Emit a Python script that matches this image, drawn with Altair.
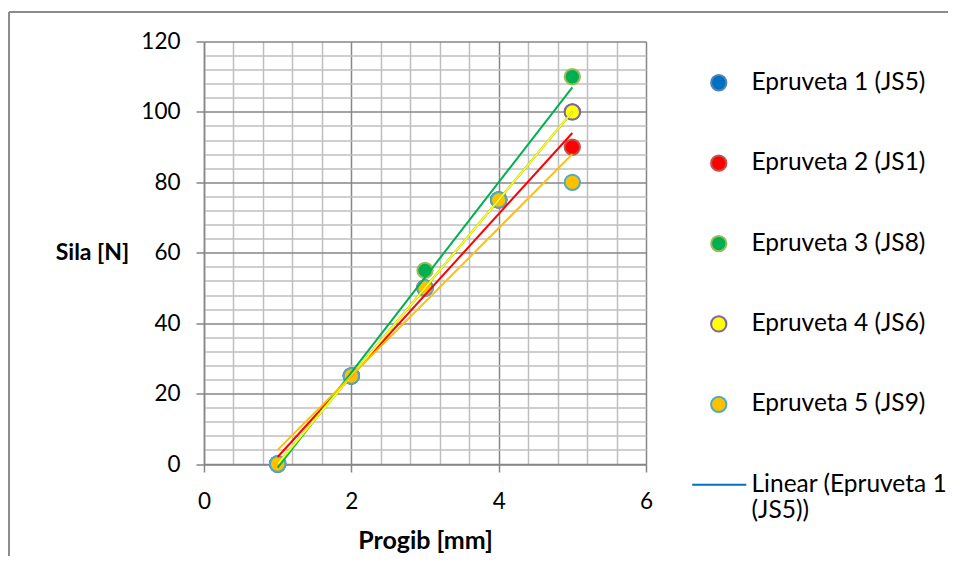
import altair as alt
import pandas as pd

# ---- data ----
x_vals = [1, 2, 3, 4, 5]
js5 = [0, 25, 50, 75, 100]
js1 = [0, 25, 50, 75, 90]
js8 = [0, 25, 55, 75, 110]
js6 = [0, 25, 50, 75, 100]
js9 = [0, 25, 50, 75, 80]
series_names = ["Epruveta 1 (JS5)", "Epruveta 2 (JS1)", "Epruveta 3 (JS8)",
                "Epruveta 4 (JS6)", "Epruveta 5 (JS9)"]
trend_label = "Linear (Epruveta 1 (JS5))"

fill_colors = ["#0070C0", "#FF0000", "#00B050", "#FFFF00", "#FFC000"]
edge_colors = ["#4F81BD", "#C0504D", "#9BBB59", "#8064A2", "#4BACC6"]
trend_colors = ["#0070C0", "#FF0000", "#00B050", "#FFFF00", "#FFC000"]

x_major = [0, 2, 4, 6]
x_minor = [0.4, 0.8, 1.2, 1.6, 2.4, 2.8, 3.2, 3.6, 4.4, 4.8, 5.2, 5.6]
y_major = [0, 20, 40, 60, 80, 100, 120]
y_minor = [4, 8, 12, 16, 24, 28, 32, 36, 44, 48, 52, 56, 64, 68, 72, 76,
           84, 88, 92, 96, 104, 108, 112, 116]

rows = []
for name, ys in zip(series_names, [js5, js1, js8, js6, js9]):
    for xv, yv in zip(x_vals, ys):
        rows.append({"series": name, "x": xv, "y": yv})
df = pd.DataFrame(rows)

FONT = "Lato"
legend_domain = series_names + [trend_label]
LINE_SYMBOL = "M-3.46,0L3.59,0"

xscale = alt.Scale(domain=[0, 6], nice=False, zero=False)
yscale = alt.Scale(domain=[0, 120], nice=False, zero=False)

minor_grid = alt.Chart(df).mark_point(opacity=0).encode(
    x=alt.X("x:Q", scale=xscale, axis=alt.Axis(orient="top", values=x_minor, grid=True,
            gridColor="#BFBFBF", gridWidth=1.5, labels=False, ticks=False, domain=False, title=None)),
    y=alt.Y("y:Q", scale=yscale, axis=alt.Axis(orient="right", values=y_minor, grid=True,
            gridColor="#BFBFBF", gridWidth=1.5, labels=False, ticks=False, domain=False, title=None)),
)

leg = alt.Legend(
    title=None, orient="none", legendX=502.5, legendY=29, padding=0,
    labelFont=FONT, labelFontSize=24.5, labelColor="#000000", labelLimit=400,
    labelOffset=20.5, rowPadding=55.4, symbolStrokeWidth=2, symbolOpacity=1, symbolSize=235,
    labelExpr="datum.label == 'Linear (Epruveta 1 (JS5))' ? ['Linear (Epruveta 1', '(JS5))'] : datum.label",
)

points = alt.Chart(df).mark_point(filled=True, opacity=1, strokeWidth=2, size=235).encode(
    x=alt.X("x:Q", scale=xscale, axis=alt.Axis(
        values=x_major, grid=True, gridColor="#868686", gridWidth=1.5,
        domainColor="#868686", domainWidth=1.5, tickColor="#868686", tickWidth=1.5, tickSize=8,
        labelFont=FONT, labelFontSize=22.5, labelColor="#000000", labelPadding=36,
        labelBaseline="alphabetic", labelFlush=False,
        title="Progib [mm]", titleFont=FONT, titleFontSize=25, titleFontWeight="bold",
        titleColor="#000000", titleX=221, titleY=84, titleBaseline="alphabetic", titleAlign="center")),
    y=alt.Y("y:Q", scale=yscale, axis=alt.Axis(
        values=y_major, grid=True, gridColor="#868686", gridWidth=1.5,
        domainColor="#868686", domainWidth=1.5, tickColor="#868686", tickWidth=1.5, tickSize=8,
        labelFont=FONT, labelFontSize=22.5, labelColor="#000000", labelPadding=16, labelFlush=False,
        title="Sila [N]", titleFont=FONT, titleFontSize=23, titleFontWeight="bold",
        titleColor="#000000", titleAngle=0, titleX=-112, titleY=211,
        titleAlign="center", titleBaseline="middle")),
    fill=alt.Fill("series:N", scale=alt.Scale(domain=legend_domain, range=fill_colors + ["transparent"]), legend=leg),
    stroke=alt.Stroke("series:N", scale=alt.Scale(domain=legend_domain, range=edge_colors + ["#0070C0"]), legend=leg),
    shape=alt.Shape("series:N", scale=alt.Scale(domain=legend_domain, range=["circle"] * 5 + [LINE_SYMBOL]), legend=leg),
)

trends = alt.Chart(df).transform_regression("x", "y", groupby=["series"]).mark_line(strokeWidth=2).encode(
    x=alt.X("x:Q", scale=xscale, axis=None),
    y=alt.Y("y:Q", scale=yscale, axis=None),
    color=alt.Color("series:N", scale=alt.Scale(domain=series_names, range=trend_colors), legend=None),
)

border_top = alt.Chart(pd.DataFrame({"k": [0]})).mark_rule(color="#8C8C8C", strokeWidth=2).encode(
    x=alt.value(-195), x2=alt.value(744), y=alt.value(-29.5))
border_left = alt.Chart(pd.DataFrame({"k": [0]})).mark_rule(color="#8C8C8C", strokeWidth=2).encode(
    x=alt.value(-195), y=alt.value(-29.5), y2=alt.value(520))
edge_cover = alt.Chart(pd.DataFrame({"k": [0]})).mark_rule(color="white", strokeWidth=6).encode(
    x=alt.value(745), y=alt.value(-27), y2=alt.value(520))

chart = alt.layer(minor_grid, points, trends, border_top, border_left, edge_cover).resolve_axis(
    x="independent", y="independent"
).properties(
    width=442, height=422.5,
    autosize=alt.AutoSizeParams(type="none"),
    padding={"left": 196, "top": 33.5, "right": 302, "bottom": 92},
    background="white",
).configure_view(strokeWidth=0)

chart.save("out.html", embed_options={"renderer": "svg", "actions": False})
